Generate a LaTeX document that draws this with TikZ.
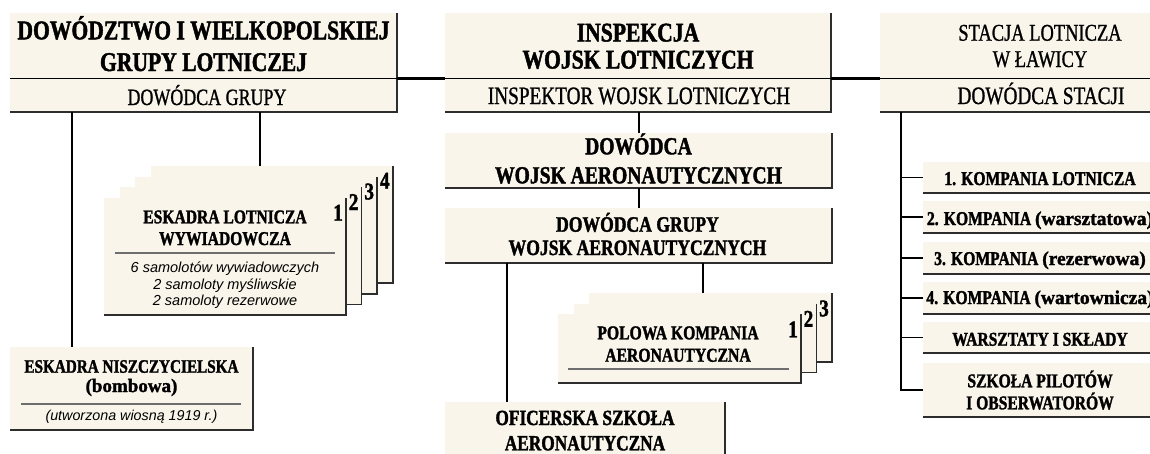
\documentclass[tikz,border=0pt]{standalone}
\usepackage{fontspec}
\usetikzlibrary{calc}
\newfontfamily\hd[FakeStretch=0.8, FakeBold=1.6]{Liberation Serif Bold}
\newfontfamily\hdl[FakeStretch=1.0, FakeBold=1.6]{Liberation Serif Bold}
\newfontfamily\hr[FakeStretch=0.77, FakeBold=1.0]{Liberation Serif}
\newfontfamily\sn{Liberation Sans}
\definecolor{cream}{RGB}{249,245,234}
\definecolor{rimc}{RGB}{45,45,45}
\definecolor{sepgray}{RGB}{110,110,110}
\tikzset{
  box/.style={fill=cream, draw=none, inner sep=0pt, outer sep=0pt, anchor=north west},
  rim/.style={draw=rimc, line width=1.6pt},
  conn/.style={draw=black, line width=2pt},
  mainconn/.style={draw=black, line width=3pt},
  trunk/.style={draw=black, line width=2.6pt},
  branch/.style={draw=black, line width=1.4pt},
  sepline/.style={draw=black, line width=1pt},
  csep/.style={draw=sepgray, line width=1.2pt},
  tx/.style={anchor=base, inner sep=0pt, outer sep=0pt},
  tbig/.style={tx, font=\hd\fontsize{27}{30}\selectfont},
  treg/.style={tx, font=\hr\fontsize{25}{28}\selectfont},
  tmid/.style={tx, font=\hd\fontsize{24.5}{28}\selectfont},
  tsm/.style={tx, font=\hd\fontsize{19.5}{22}\selectfont},
  tnum/.style={tx, font=\hd\fontsize{24}{26}\selectfont},
  tit/.style={tx, font=\sn\itshape\fontsize{14.5}{17}\selectfont},
}
\begin{document}
\begin{tikzpicture}[x=1pt, y=-1pt]
\useasboundingbox (0,0) rectangle (1150,453);
\clip (0,0) rectangle (1150,453);

% ---------- top row ----------
\node[box, minimum width=387pt, minimum height=99pt] (A) at (10,13) {};
\draw[rim] (A.north east) -- (A.south east) -- (A.south west);
\draw[sepline] (A.west |- 0,78) -- (A.east |- 0,78);
\node[tbig] (A1) at (203.5,39.3) {DOWÓDZTWO I WIELKOPOLSKIEJ};
\node[tbig] (A2) at (203.5,71) {GRUPY LOTNICZEJ};
\node[tx, font=\hr\fontsize{23.3}{26}\selectfont] (A3) at (207,105) {DOWÓDCA GRUPY};

\node[box, minimum width=386pt, minimum height=99pt] (B) at (445,13) {};
\draw[rim] (B.north east) -- (B.south east) -- (B.south west);
\draw[sepline] (B.west |- 0,78) -- (B.east |- 0,78);
\node[tbig] (B1) at (638,41.5) {INSPEKCJA};
\node[tbig] (B2) at (638,68.5) {WOJSK LOTNICZYCH};
\node[treg] (B3) at (639,104) {INSPEKTOR WOJSK LOTNICZYCH};

\node[box, minimum width=320pt, minimum height=99pt] (C) at (880,13) {};
\draw[rim] (C.north east) -- (C.south east) -- (C.south west);
\draw[sepline] (C.west |- 0,78) -- (C.east |- 0,78);
\node[tx, font=\hr\fontsize{24}{27}\selectfont] (C1) at (1040,40.7) {STACJA LOTNICZA};
\node[tx, font=\hr\fontsize{24}{27}\selectfont] (C2) at (1040,67) {W ŁAWICY};
\node[treg] (C3) at (1041,104) {DOWÓDCA STACJI};

% ---------- middle column ----------
\node[box, minimum width=387pt, minimum height=55pt] (D) at (445,133) {};
\draw[rim] (D.north east) -- (D.south east) -- (D.south west);
\node[tmid] (D1) at (638.5,154.3) {DOWÓDCA};
\node[tmid] (D2) at (638.5,183.3) {WOJSK AERONAUTYCZNYCH};

\node[box, minimum width=387pt, minimum height=55pt] (E) at (445,208) {};
\draw[rim] (E.north east) -- (E.south east) -- (E.south west);
\node[tx, font=\hd\fontsize{22}{25}\selectfont] (E1) at (637.5,231.7) {DOWÓDCA GRUPY};
\node[tx, font=\hd\fontsize{22}{25}\selectfont] (E2) at (637.5,255) {WOJSK AERONAUTYCZNYCH};

\node[box, minimum width=280pt, minimum height=70pt] (F) at (445,402) {};
\draw[rim] (F.north east) -- (F.south east) -- (F.south west);
\node[tx, font=\hd\fontsize{21.6}{25}\selectfont] (F1) at (585,425) {OFICERSKA SZKOŁA};
\node[tx, font=\hd\fontsize{21.6}{25}\selectfont] (F2) at (585,450.3) {AERONAUTYCZNA};

% polowa kompania cards (back to front)
\node[box, minimum width=243pt, minimum height=69pt] (P3) at (589,293) {};
\draw[rim] (P3.north east) -- (P3.south east) -- (P3.south west);
\node[tnum] (P3n) at ($(P3.north east)+(-8,23.3)$) {3};
\node[box, minimum width=243pt, minimum height=69pt] (P2) at (573.5,303.5) {};
\draw[rim] (P2.north east) -- (P2.south east) -- (P2.south west);
\node[tnum] (P2n) at ($(P2.north east)+(-8,23.3)$) {2};
\node[box, minimum width=243pt, minimum height=69pt] (P1) at (558,314) {};
\draw[rim] (P1.north east) -- (P1.south east) -- (P1.south west);
\node[tnum] (P1n) at ($(P1.north east)+(-8,23.3)$) {1};
\node[tx, font=\hd\fontsize{19.6}{22}\selectfont] (P1a) at (678,339.3) {POLOWA KOMPANIA};
\node[tx, font=\hd\fontsize{19.6}{22}\selectfont] (P1b) at (678,361.7) {AERONAUTYCZNA};
\draw[csep] (568,369) -- (789,369);

% ---------- left column ----------
\node[box, minimum width=242pt, minimum height=117pt] (L4) at (150.8,166) {};
\draw[rim] (L4.north east) -- (L4.south east) -- (L4.south west);
\node[tnum] (L4n) at ($(L4.north east)+(-8,22.7)$) {4};
\node[box, minimum width=242pt, minimum height=117pt] (L3) at (135.2,176.7) {};
\draw[rim] (L3.north east) -- (L3.south east) -- (L3.south west);
\node[tnum] (L3n) at ($(L3.north east)+(-8,22.7)$) {3};
\node[box, minimum width=242pt, minimum height=117pt] (L2) at (119.6,187.3) {};
\draw[rim] (L2.north east) -- (L2.south east) -- (L2.south west);
\node[tnum] (L2n) at ($(L2.north east)+(-8,22.7)$) {2};
\node[box, minimum width=242pt, minimum height=117pt] (L1) at (104,198) {};
\draw[rim] (L1.north east) -- (L1.south east) -- (L1.south west);
\node[tnum] (L1n) at ($(L1.north east)+(-8,22.7)$) {1};
\node[tsm] (L1a) at (225,223.3) {ESKADRA LOTNICZA};
\node[tsm] (L1b) at (225,245) {WYWIADOWCZA};
\draw[csep] (115,253) -- (335,253);
\node[tit] (L1c) at (225,272.3) {6 samolotów wywiadowczych};
\node[tit] (L1d) at (225,289.3) {2 samoloty myśliwskie};
\node[tit] (L1e) at (225,305.7) {2 samoloty rezerwowe};

\node[box, minimum width=243pt, minimum height=83pt] (G) at (10,347) {};
\draw[rim] (G.north east) -- (G.south east) -- (G.south west);
\node[tx, font=\hd\fontsize{19}{22}\selectfont] (G1) at (131.5,372.7) {ESKADRA NISZCZYCIELSKA};
\node[tx, font=\hdl\fontsize{19}{22}\selectfont] (G2) at (131.5,392) {(bombowa)};
\draw[csep] (21,404) -- (241,404);
\node[tx, font=\sn\itshape\fontsize{14.3}{17}\selectfont] (G3) at (131.5,420) {(utworzona wiosną 1919 r.)};

% ---------- right column ----------
\node[box, minimum width=234pt, minimum height=31pt] (K1) at (923,162) {};
\draw[rim] (K1.north east) -- (K1.south east) -- (K1.south west);
\node[tsm] (K1t) at (1040,185) {1. KOMPANIA LOTNICZA};
\node[box, minimum width=234pt, minimum height=32pt] (K2) at (923,201) {};
\draw[rim] (K2.north east) -- (K2.south east) -- (K2.south west);
\node[tsm] (K2t) at (1040,225) {2. KOMPANIA {\hdl(warsztatowa)}};
\node[box, minimum width=234pt, minimum height=32pt] (K3) at (923,242) {};
\draw[rim] (K3.north east) -- (K3.south east) -- (K3.south west);
\node[tsm] (K3t) at (1040,265) {3. KOMPANIA {\hdl(rezerwowa)}};
\node[box, minimum width=234pt, minimum height=32pt] (K4) at (923,282) {};
\draw[rim] (K4.north east) -- (K4.south east) -- (K4.south west);
\node[tsm] (K4t) at (1040,304) {4. KOMPANIA {\hdl(wartownicza)}};
\node[box, minimum width=234pt, minimum height=31pt] (W) at (923,322) {};
\draw[rim] (W.north east) -- (W.south east) -- (W.south west);
\node[tsm] (Wt) at (1040,345.7) {WARSZTATY I SKŁADY};
\node[box, minimum width=234pt, minimum height=54pt] (S) at (923,363) {};
\draw[rim] (S.north east) -- (S.south east) -- (S.south west);
\node[tsm] (S1) at (1040,387.3) {SZKOŁA PILOTÓW};
\node[tsm] (S2) at (1040,409.3) {I OBSERWATORÓW};

% ---------- connectors ----------
\draw[mainconn] (A.east |- 0,78) -- (B.west |- 0,78);
\draw[mainconn] (B.east |- 0,78) -- (C.west |- 0,78);
\draw[conn] (A.south -| 72,0) -- (G.north -| 72,0);
\draw[conn] (A.south -| 260,0) -- (L4.north -| 260,0);
\draw[conn] (B.south -| 638.5,0) -- (D.north -| 638.5,0);
\draw[conn] (D.south -| 638.5,0) -- (E.north -| 638.5,0);
\draw[conn] (E.south -| 507,0) -- (F.north -| 507,0);
\draw[conn] (E.south -| 703,0) -- (P3.north -| 703,0);
\draw[trunk] (C.south -| 901,0) -- (S.west -| 901,0) -- (S.west);
\foreach \k in {K1,K2,K3,K4,W}{
  \draw[branch] (\k.west -| 901,0) -- (\k.west);
}
\end{tikzpicture}
\end{document}
